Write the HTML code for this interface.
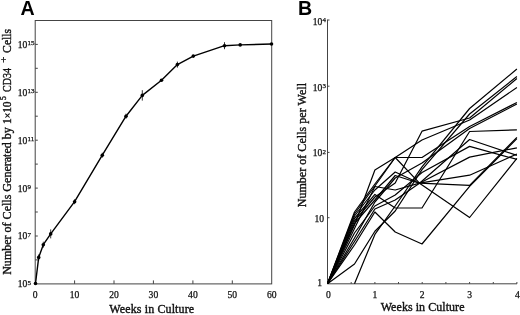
<!DOCTYPE html>
<html><head><meta charset="utf-8"><title>Figure</title>
<style>
html,body{margin:0;padding:0;background:#fff;}
body{width:520px;height:315px;overflow:hidden;}
svg{display:block;will-change:transform;filter:blur(0.35px);}
text{font-family:"Liberation Serif",serif;fill:#111;}
.t{font-size:9.6px;stroke:#111;stroke-width:0.25px;}
.s{font-size:7px;}
.l,.l text{font-size:12px;stroke:#111;stroke-width:0.38px;}
.ls{font-size:9px;}
.h{font-family:"Liberation Sans",sans-serif;font-weight:bold;font-size:19.6px;fill:#000;}
.ax line,.ax rect,.ax polyline{stroke:#444;stroke-width:1;fill:none;}
.bl polyline{fill:none;stroke:#000;stroke-width:1.2;stroke-linejoin:round;}
</style></head><body>
<svg width="520" height="315" viewBox="0 0 520 315">
<rect width="520" height="315" fill="#fff"/>
<text x="20.5" y="15" class="h">A</text>
<text x="298" y="15" class="h">B</text>
<g class="ax">
<rect x="35.2" y="20.5" width="236.5" height="263.4"/>
<line x1="35.2" y1="259.9" x2="37.800000000000004" y2="259.9"/><line x1="35.2" y1="236.0" x2="37.800000000000004" y2="236.0"/><line x1="35.2" y1="212.0" x2="37.800000000000004" y2="212.0"/><line x1="35.2" y1="188.1" x2="37.800000000000004" y2="188.1"/><line x1="35.2" y1="164.1" x2="37.800000000000004" y2="164.1"/><line x1="35.2" y1="140.2" x2="37.800000000000004" y2="140.2"/><line x1="35.2" y1="116.2" x2="37.800000000000004" y2="116.2"/><line x1="35.2" y1="92.3" x2="37.800000000000004" y2="92.3"/><line x1="35.2" y1="68.3" x2="37.800000000000004" y2="68.3"/><line x1="35.2" y1="44.4" x2="37.800000000000004" y2="44.4"/><line x1="74.6" y1="283.9" x2="74.6" y2="280.4"/><line x1="114.0" y1="283.9" x2="114.0" y2="280.4"/><line x1="153.4" y1="283.9" x2="153.4" y2="280.4"/><line x1="192.9" y1="283.9" x2="192.9" y2="280.4"/><line x1="232.3" y1="283.9" x2="232.3" y2="280.4"/>
</g>
<text x="17.8" y="287.3" class="t">10<tspan class="s" dy="-2.6">5</tspan></text><text x="17.8" y="239.4" class="t">10<tspan class="s" dy="-2.6">7</tspan></text><text x="17.8" y="191.5" class="t">10<tspan class="s" dy="-2.6">9</tspan></text><text x="17.8" y="143.6" class="t">10<tspan class="s" dy="-2.6">11</tspan></text><text x="17.8" y="95.7" class="t">10<tspan class="s" dy="-2.6">13</tspan></text><text x="17.8" y="47.8" class="t">10<tspan class="s" dy="-2.6">15</tspan></text>
<text x="35.2" y="297.8" class="t" text-anchor="middle">0</text><text x="74.6" y="297.8" class="t" text-anchor="middle">10</text><text x="114.0" y="297.8" class="t" text-anchor="middle">20</text><text x="153.4" y="297.8" class="t" text-anchor="middle">30</text><text x="192.9" y="297.8" class="t" text-anchor="middle">40</text><text x="232.3" y="297.8" class="t" text-anchor="middle">50</text><text x="271.7" y="297.8" class="t" text-anchor="middle">60</text>
<text x="109.3" y="313.2" class="l" textLength="84.8">Weeks in Culture</text>
<g class="l">
<text transform="translate(11,274.8) rotate(-90)" textLength="147.6" lengthAdjust="spacing">Number of Cells Generated by</text>
<text transform="translate(11,124) rotate(-90)" textLength="22.6" lengthAdjust="spacingAndGlyphs">1<tspan style="font-size:10px">×</tspan>10</text>
<text transform="translate(6.2,98.1) rotate(-90)" text-anchor="middle" style="font-size:7.6px">5</text>
<text transform="translate(11,92) rotate(-90)" textLength="23.9" lengthAdjust="spacingAndGlyphs">CD34</text>
<text transform="translate(6.8,59.6) rotate(-90)" text-anchor="middle" style="font-size:11px">+</text>
<text transform="translate(11,52.9) rotate(-90)" textLength="24" lengthAdjust="spacingAndGlyphs">Cells</text>
</g>
<polyline points="35.5,283.5 38.7,257.4 43.3,244.7 50.7,233.9 74.6,201.7 102.3,155.2 126.0,116.2 142.3,95.4 161.5,80.2 177.4,64.6 193.3,56.1 224.5,45.7 240.2,44.9 271.5,44.0" fill="none" stroke="#000" stroke-width="1.4" stroke-linejoin="round"/>
<circle cx="35.5" cy="283.5" r="1.8" fill="#000"/><circle cx="38.7" cy="257.4" r="1.8" fill="#000"/><line x1="38.7" y1="254.4" x2="38.7" y2="260.4" stroke="#000" stroke-width="0.8"/><circle cx="43.3" cy="244.7" r="1.8" fill="#000"/><line x1="43.3" y1="241.7" x2="43.3" y2="247.7" stroke="#000" stroke-width="0.8"/><circle cx="50.7" cy="233.9" r="1.8" fill="#000"/><line x1="50.7" y1="229.4" x2="50.7" y2="238.4" stroke="#000" stroke-width="0.8"/><circle cx="74.6" cy="201.7" r="1.8" fill="#000"/><line x1="74.6" y1="199.2" x2="74.6" y2="204.2" stroke="#000" stroke-width="0.8"/><circle cx="102.3" cy="155.2" r="1.8" fill="#000"/><line x1="102.3" y1="152.7" x2="102.3" y2="157.7" stroke="#000" stroke-width="0.8"/><circle cx="126.0" cy="116.2" r="1.8" fill="#000"/><line x1="126.0" y1="113.7" x2="126.0" y2="118.7" stroke="#000" stroke-width="0.8"/><circle cx="142.3" cy="95.4" r="1.8" fill="#000"/><line x1="142.3" y1="90.2" x2="142.3" y2="100.6" stroke="#000" stroke-width="0.8"/><circle cx="161.5" cy="80.2" r="1.8" fill="#000"/><circle cx="177.4" cy="64.6" r="1.8" fill="#000"/><line x1="177.4" y1="61.6" x2="177.4" y2="67.6" stroke="#000" stroke-width="0.8"/><circle cx="193.3" cy="56.1" r="1.8" fill="#000"/><circle cx="224.5" cy="45.7" r="1.8" fill="#000"/><line x1="224.5" y1="42.2" x2="224.5" y2="49.2" stroke="#000" stroke-width="0.8"/><circle cx="240.2" cy="44.9" r="1.8" fill="#000"/><circle cx="271.5" cy="44.0" r="1.8" fill="#000"/>
<g class="ax">
<polyline points="327.5,19.6 327.5,283.8 517,283.8"/>
<line x1="327.5" y1="20.0" x2="329.5" y2="20.0"/><line x1="327.5" y1="86.2" x2="329.5" y2="86.2"/><line x1="327.5" y1="152.4" x2="329.5" y2="152.4"/><line x1="327.5" y1="217.7" x2="329.5" y2="217.7"/><line x1="351.2" y1="283.8" x2="351.2" y2="282.0"/><line x1="374.9" y1="283.8" x2="374.9" y2="282.0"/><line x1="398.5" y1="283.8" x2="398.5" y2="282.0"/><line x1="422.2" y1="283.8" x2="422.2" y2="282.0"/><line x1="445.9" y1="283.8" x2="445.9" y2="282.0"/><line x1="469.6" y1="283.8" x2="469.6" y2="282.0"/><line x1="493.3" y1="283.8" x2="493.3" y2="282.0"/><line x1="516.9" y1="283.8" x2="516.9" y2="282.0"/>
</g>
<text x="312.8" y="24.8" class="t">10<tspan class="s" dy="-2.6">4</tspan></text><text x="312.8" y="90.6" class="t">10<tspan class="s" dy="-2.6">3</tspan></text><text x="312.8" y="156.2" class="t">10<tspan class="s" dy="-2.6">2</tspan></text><text x="314.5" y="221.5" class="t">10</text><text x="317.3" y="286.2" class="t">1</text>
<text x="328.5" y="298" class="t" text-anchor="middle">0</text><text x="374.9" y="298" class="t" text-anchor="middle">1</text><text x="422.2" y="298" class="t" text-anchor="middle">2</text><text x="469.6" y="298" class="t" text-anchor="middle">3</text><text x="517.5" y="298" class="t" text-anchor="middle">4</text>
<text x="380.7" y="311.3" class="l" textLength="83.8">Weeks in Culture</text>
<text transform="translate(305.8,207.3) rotate(-90)" class="l" textLength="124.3" lengthAdjust="spacing">Number of Cells per Well</text>
<g class="bl">
<polyline points="327.5,283.7 354.5,225.0 374.9,170.0 395.2,157.5 422.0,157.5 469.6,126.5 516.9,102.5"/>
<polyline points="327.5,283.7 354.5,212.0 374.9,184.0 395.2,157.5 422.0,140.0 469.6,120.0 516.9,87.5"/>
<polyline points="327.5,283.7 354.5,214.0 374.9,186.0 395.2,157.5 419.5,183.2 469.6,217.5 516.9,158.3"/>
<polyline points="327.5,283.7 354.5,221.0 374.9,197.0 395.2,183.0 422.0,131.2 469.6,118.0 516.9,78.5"/>
<polyline points="327.5,283.7 354.5,218.5 374.9,194.4 395.2,208.0 422.0,208.0 469.6,131.5 516.9,129.8"/>
<polyline points="327.5,283.7 354.5,245.0 374.9,212.0 395.2,232.0 422.0,244.0 469.6,186.3 516.9,138.7"/>
<polyline points="327.5,283.7 354.5,264.0 374.9,231.2 395.2,211.0 422.0,169.7 469.6,114.0 516.9,76.5"/>
<polyline points="354.5,283.7 374.9,234.4 395.2,206.0 422.0,166.9 469.6,108.5 516.9,69.0"/>
<polyline points="327.5,283.7 354.5,216.0 374.9,190.0 395.2,172.0 419.5,183.2 469.6,175.2 516.9,154.0"/>
<polyline points="327.5,283.7 354.5,223.5 374.9,200.0 395.2,175.5 419.5,183.2 469.6,185.4 516.9,137.4"/>
<polyline points="327.5,283.7 354.5,228.5 374.9,186.5 395.2,190.0 419.5,183.2 469.6,139.5 516.9,155.4"/>
<polyline points="327.5,283.7 354.5,233.0 374.9,206.0 395.2,195.0 422.0,172.5 469.6,146.4 516.9,159.4"/>
<polyline points="327.5,283.7 354.5,241.5 374.9,209.0 395.2,200.0 419.5,183.2 469.6,157.1 516.9,147.8"/>
<polyline points="327.5,283.7 354.5,238.0 374.9,202.0 395.2,178.0 422.0,163.0 469.6,128.5 516.9,104.0"/>
</g>
</svg>
</body></html>
